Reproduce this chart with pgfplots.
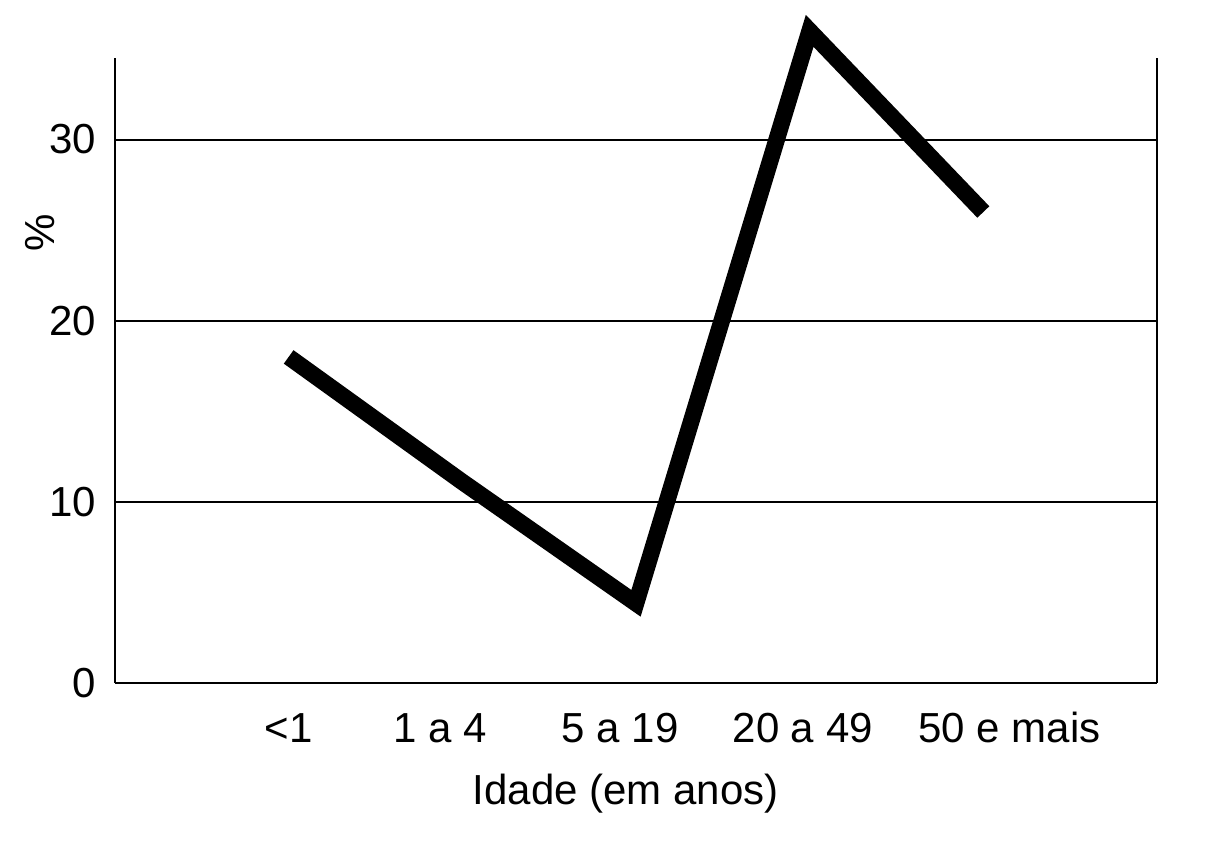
\documentclass[border=0pt]{standalone}
\usepackage{pgfplots}
\pgfplotsset{compat=1.18}
\usepackage{fontspec}
\setmainfont{Liberation Sans}

\begin{document}
\begin{tikzpicture}
  \begin{axis}[
    scale only axis,
    width=521pt,
    height=312.5pt,
    xmin=-1, xmax=5,
    ymin=0, ymax=34.5,
    clip=false,
    axis x line=bottom,
    axis y line=box,
    axis line style={-, line width=1.2pt},
    xtick={0,0.87,1.91,2.96,4.15},
    xticklabels={<1, 1 a 4, 5 a 19, 20 a 49, 50 e mais},
    ytick={0,10,20,30},
    major tick length=0pt,
    ymajorgrids,
    major grid style={line width=1pt, black},
    /pgf/number format/assume math mode=true,
    tick label style={font=\fontsize{21}{25}\selectfont},
    label style={font=\fontsize{21}{25}\selectfont},
    xticklabel style={anchor=base, yshift=-29.5pt},
    yticklabel style={xshift=-6pt},
    xlabel={Idade (em anos)},
    xlabel style={at={(axis description cs:0.49,-0.195)}, anchor=base},
    ylabel={\%},
    ylabel style={at={(axis description cs:-0.072,0.72)}, anchor=center, rotate=0},
  ]
    \addplot[black, line width=8.3pt, line join=miter, line cap=butt] coordinates {
      (0, 18.0) (1, 11.1) (2, 4.4) (3, 36.0) (4, 26.0)
    };
  \end{axis}
  \path ([shift={(-57.5pt,341.5pt)}]current axis.south west)
        rectangle ([shift={(550.5pt,-90.5pt)}]current axis.south west);
\end{tikzpicture}
\end{document}
